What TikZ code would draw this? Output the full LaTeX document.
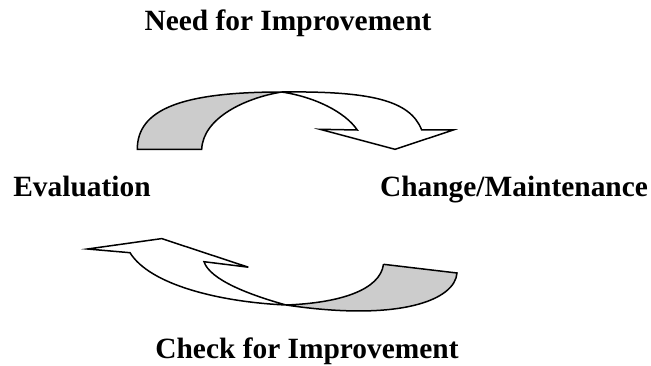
\documentclass[tikz,border=0pt]{standalone}
\usepackage{fontspec}
\setmainfont{Liberation Serif}

\begin{document}
\begin{tikzpicture}
  [x=1pt,y=-1pt,line width=1.5pt,
   every node/.style={inner sep=0pt,anchor=base,font=\fontsize{29.4}{34}\selectfont\bfseries},
   back/.style={draw,fill=black!20},
   front/.style={draw,fill=white}]
  \useasboundingbox (0,0) rectangle (651,366);

  \node (need)   at (288,31)  {Need for Improvement};
  \node (eval)   at (82,197)  {Evaluation};
  \node (change) at (514,197) {Change/Maintenance};
  \node (check)  at (307,358) {Check for Improvement};

  % upper arrow: from Evaluation over to Change/Maintenance
  \coordinate (ut) at (281.7,92);
  \draw[back] (137.3,149.3) .. controls (137.3,110) and (180,92) .. (ut)
    .. controls (245,98) and (203,118) .. (201.7,149.3) -- cycle;
  \draw[front] (ut) .. controls (370,91) and (410,100) .. (421.7,130)
    -- (453.3,130) -- (395,149.3) -- (320,129.3) -- (357.3,130)
    .. controls (345,112) and (315,97) .. (ut);

  % lower arrow: from Change/Maintenance back to Evaluation
  \coordinate (lt) at (286,305);
  \draw[back] (383.5,264.3) -- (457,273)
    .. controls (455,300) and (400,322) .. (lt)
    .. controls (340,303) and (380,290) .. (383.5,264.3);
  \draw[front] (lt) .. controls (250,295) and (210,280) .. (204,261.7)
    -- (248.3,267.2) -- (161.7,238.6) -- (87.5,249) -- (130,252.7)
    .. controls (150,285) and (220,302) .. (lt);

\end{tikzpicture}
\end{document}
